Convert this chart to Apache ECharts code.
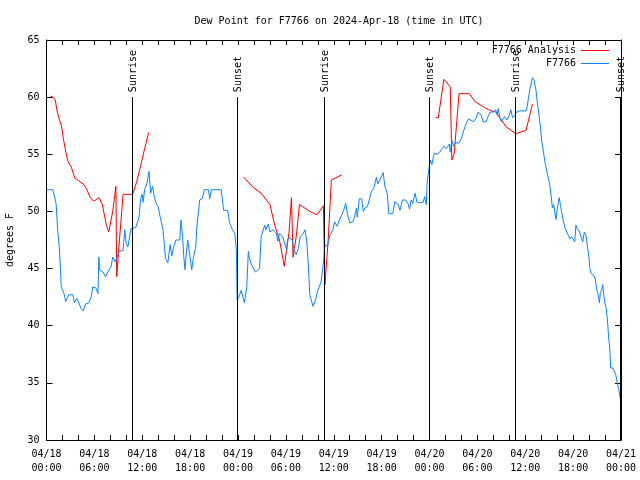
<!DOCTYPE html>
<html>
<head>
<meta charset="utf-8">
<script src="https://cdn.jsdelivr.net/npm/echarts@6/dist/echarts.min.js"></script>
<style>html,body{margin:0;padding:0;background:#fff}#c{width:640px;height:480px}</style>
</head>
<body>
<div id="c"></div>
<script>
// hours since 2024-04-18 00:00 UTC
const xTickLabels = ['04/18\n00:00','04/18\n06:00','04/18\n12:00','04/18\n18:00','04/19\n00:00','04/19\n06:00','04/19\n12:00','04/19\n18:00','04/20\n00:00','04/20\n06:00','04/20\n12:00','04/20\n18:00','04/21\n00:00'];

const obsHours = [0.0,0.8,1.2,1.4,1.6,1.75,1.85,2.25,2.4,2.8,3.3,3.5,3.8,4.05,4.35,4.6,4.9,5.3,5.6,5.8,6.2,6.45,6.56,6.65,7.07,7.4,7.7,8.1,8.3,8.6,8.8,9.1,9.2,9.6,9.8,10.0,10.2,10.5,10.6,10.8,11.2,11.6,11.8,12.0,12.1,12.3,12.6,12.85,13.05,13.3,13.5,13.75,14.0,14.25,14.6,14.8,14.9,15.2,15.4,15.5,15.7,15.9,16.2,16.7,16.85,17.05,17.2,17.35,17.5,17.7,17.95,18.2,18.4,18.6,18.7,18.85,19.2,19.5,19.8,20.3,20.45,20.65,21.9,22.2,22.7,22.95,23.3,23.6,23.8,23.85,23.9,24.1,24.4,24.8,25.1,25.3,25.4,25.7,25.9,26.2,26.7,26.9,27.35,27.5,27.8,28.0,28.4,28.8,29.0,29.2,29.6,30.1,30.2,30.4,30.8,31.1,31.3,31.6,31.8,32.2,32.4,32.6,32.8,33.0,33.4,33.7,34.0,34.4,34.6,34.75,34.9,35.2,35.3,35.5,35.9,36.1,36.4,36.7,37.0,37.2,37.5,37.7,38.0,38.4,38.6,38.85,38.95,39.2,39.5,39.7,39.9,40.2,40.45,40.7,41.0,41.35,41.5,41.8,42.2,42.4,42.7,42.9,43.4,43.65,44.1,44.3,44.6,45.0,45.3,45.5,45.7,45.9,46.2,46.4,46.8,47.2,47.4,47.6,47.7,47.9,48.1,48.3,48.5,48.6,49.0,49.3,49.6,49.8,50.1,50.5,50.6,50.8,51.0,51.2,51.4,51.7,52.0,52.3,52.6,52.9,53.1,53.5,53.8,54.1,54.3,54.5,54.7,55.1,55.4,55.6,56.0,56.3,56.5,56.6,56.8,57.0,57.2,57.4,57.7,58.0,58.2,58.4,58.7,58.9,59.3,60.1,60.25,60.4,60.6,60.8,60.9,61.1,61.2,61.35,61.5,61.75,61.9,62.05,62.3,62.5,62.7,62.9,63.1,63.3,63.4,63.55,63.7,63.85,64.0,64.15,64.25,64.4,64.6,64.75,65.0,65.2,65.4,65.6,65.8,66.0,66.2,66.35,66.5,66.8,66.95,67.2,67.4,67.6,67.7,67.8,68.0,68.1,68.25,68.45,68.65,68.8,68.9,69.1,69.3,69.4,69.6,69.7,69.85,70.0,70.15,70.3,70.45,70.6,70.7,71.0,71.35,71.5,71.7,71.9];
const obsDew = [51.9,51.9,50.7,48.4,46.9,44.9,43.4,42.7,42.1,42.7,42.7,42.0,42.4,42.5,41.5,41.3,41.9,42.0,42.5,43.4,43.3,42.8,46.0,44.9,44.7,44.3,44.7,45.2,46.0,45.6,45.9,46.5,46.6,46.6,48.4,47.2,46.9,48.1,48.5,48.6,48.6,49.5,51.1,51.5,50.8,51.9,52.5,53.5,51.6,52.2,51.3,50.7,50.4,49.5,48.4,46.9,45.9,45.5,45.6,47.1,46.1,46.8,47.5,47.5,49.25,47.8,46.1,44.9,46.1,47.5,46.2,44.9,45.9,45.9,46.9,48.7,51.0,51.1,51.9,51.9,51.1,51.9,51.9,50.1,50.1,49.0,48.4,48.1,46.6,44.0,42.25,42.5,43.1,42.0,43.4,46.5,46.0,45.3,45.4,44.7,45.0,47.8,48.8,48.4,48.9,48.2,48.4,48.1,47.4,48.1,47.8,46.6,47.5,47.7,47.5,46.5,46.2,46.9,47.8,48.1,48.4,47.5,45.5,42.7,41.7,42.2,43.1,43.8,44.9,45.8,47.1,46.9,47.2,47.9,48.4,49.1,48.7,49.25,49.7,50.0,50.7,49.85,49.0,49.1,49.5,50.3,49.5,51.1,51.1,50.0,50.3,50.4,51.0,51.7,52.0,53.0,52.4,52.8,53.4,52.2,51.6,49.8,49.8,50.85,50.6,50.1,51.0,51.0,50.7,50.2,51.0,50.7,51.6,50.85,50.75,50.8,51.3,50.6,52.5,53.6,54.5,54.1,54.8,55.1,55.0,55.2,55.5,55.7,55.5,55.9,55.2,56.25,55.7,56.0,56.1,56.0,56.4,57.1,57.7,58.1,58.0,57.85,58.1,58.7,58.8,58.4,57.85,57.85,58.4,58.7,58.7,58.9,58.4,59.0,58.3,57.85,58.0,58.3,58.0,58.4,58.9,58.2,58.4,58.7,58.8,58.8,59.2,59.9,60.8,61.35,61.7,61.5,61.1,60.6,59.6,58.3,57.4,56.25,55.1,54.2,53.5,52.9,52.2,51.0,50.3,50.6,50.7,49.3,50.15,50.8,51.2,50.6,49.8,49.25,48.5,48.2,47.9,47.6,47.8,47.7,47.35,48.8,48.5,48.2,48.1,47.35,48.2,47.9,47.5,46.9,45.9,45.0,44.6,44.7,44.35,44.0,43.4,42.8,42.0,42.8,43.2,43.6,42.65,41.9,41.5,40.5,39.0,37.9,36.3,36.3,35.7,35.1,34.5,33.65];

// analysis: three separate runs (null marks a gap)
const anaHours = [0.5,0.8,1.1,1.35,1.7,1.9,2.1,2.45,2.7,3.1,3.55,4.0,4.6,5.0,5.5,5.9,6.6,7.0,7.5,7.8,8.3,8.7,8.8,9.2,9.6,10.8,11.3,11.8,12.3,12.8, 18.0, 24.7,25.9,26.9,28.0,28.6,29.2,29.8,30.4,30.7,30.9,31.3,31.7,33.0,33.9,34.7,34.9,35.3,35.7,37.0, 42.0, 48.75,49.1,49.8,50.6,50.8,51.1,51.7,53.0,53.7,55.4,56.3,57.6,58.8,60.1,60.9];
const anaDew = [60.1,60.0,59.75,58.7,57.85,57.4,56.4,55.1,54.35,53.9,52.9,52.7,52.4,52.0,51.2,50.9,51.2,50.6,48.8,48.2,50.0,52.2,44.3,48.0,51.5,51.5,52.6,54.0,55.5,56.9, null, 53.0,52.1,51.6,50.6,48.8,47.5,45.2,48.2,51.2,46.0,47.8,50.6,50.0,49.7,50.5,43.6,47.5,52.75,53.2, null, 58.2,58.2,61.56,60.9,54.5,55.1,60.3,60.3,59.6,58.9,58.7,57.4,56.8,57.1,59.4];

const eventHours = [10.75, 23.9, 34.8, 47.93, 58.75, 71.93];
const eventNames = ['Sunrise','Sunset','Sunrise','Sunset','Sunrise','Sunset'];
const eventTop = 60;

const FONT = 'DejaVu Sans Mono';
const chart = echarts.init(document.getElementById('c'), null, {renderer:'canvas'});

const tickStyle = {color:'#000', width:1};

chart.setOption({
  animation:false,
  backgroundColor:'#fff',
  title:{text:'Dew Point for F7766 on 2024-Apr-18 (time in UTC)', left:334, textAlign:'center', top:11,
    textStyle:{fontFamily:FONT, fontSize:10, fontWeight:'normal', color:'#000'}},
  legend:{
    data:['F7766 Analysis','F7766'], orient:'vertical', align:'right', right:31, top:44, padding:0, itemGap:0,
    icon:'rect', itemWidth:28, itemHeight:1,
    textStyle:{fontFamily:FONT, fontSize:10, color:'#000', lineHeight:13}
  },
  grid:{left:46.5, right:19, top:40, bottom:40, containLabel:false, outerBoundsMode:'none'},
  xAxis:[
    {type:'value', min:0, max:72, interval:6, position:'bottom',
      axisLine:{show:true, onZero:false, lineStyle:tickStyle}, splitLine:{show:false},
      axisTick:{show:true, inside:true, length:5, lineStyle:tickStyle},
      minorTick:{show:true, splitNumber:3, length:5, lineStyle:tickStyle},
      minorSplitLine:{show:false},
      axisLabel:{color:'#000', fontFamily:FONT, fontSize:10, margin:7, lineHeight:14,
        formatter:(v)=>xTickLabels[Math.round(v/6)]}},
    {type:'value', min:0, max:72, interval:6, position:'top',
      axisLine:{show:true, onZero:false, lineStyle:tickStyle}, splitLine:{show:false},
      axisTick:{show:true, inside:true, length:5, lineStyle:tickStyle},
      minorTick:{show:true, splitNumber:3, length:5, lineStyle:tickStyle},
      axisLabel:{show:false}}
  ],
  yAxis:[
    {type:'value', min:30, max:65, interval:5, position:'left',
      axisLine:{show:true, onZero:false, lineStyle:tickStyle}, splitLine:{show:false},
      name:'degrees F', nameLocation:'middle', nameGap:31, nameRotate:90,
      nameTextStyle:{fontFamily:FONT, fontSize:10, color:'#000'},
      axisTick:{show:true, inside:true, length:6, lineStyle:tickStyle},
      axisLabel:{color:'#000', fontFamily:FONT, fontSize:10, margin:7}},
    {type:'value', min:30, max:65, interval:5, position:'right',
      axisLine:{show:true, onZero:false, lineStyle:tickStyle}, splitLine:{show:false},
      axisTick:{show:true, inside:true, length:6, lineStyle:tickStyle},
      axisLabel:{show:false}}
  ],
  series:[
    {name:'F7766 Analysis', type:'line', xAxisIndex:0, yAxisIndex:0, showSymbol:false, symbol:'none',
      connectNulls:false, color:'#ff0000', lineStyle:{color:'#ff0000', width:1},
      data:anaHours.map((h,i)=>[h, anaDew[i]])},
    {name:'F7766', type:'line', xAxisIndex:0, yAxisIndex:0, showSymbol:false, symbol:'none',
      color:'#0a84ff', lineStyle:{color:'#0a84ff', width:1},
      data:obsHours.map((h,i)=>[h, obsDew[i]])},
    {type:'custom', xAxisIndex:0, yAxisIndex:0, clip:false, silent:true, z:10,
      data:eventHours.map((h,i)=>[h, i]),
      renderItem:(params, api)=>{
        const t = api.value(0);
        const name = eventNames[api.value(1)];
        const p1 = api.coord([t, eventTop]);
        const p2 = api.coord([t, 30]);
        const x = Math.round(p1[0]) + 0.5;
        return {type:'group', children:[
          {type:'line', shape:{x1:x, y1:p1[1], x2:x, y2:p2[1]}, style:{stroke:'#000', lineWidth:1}},
          {type:'text', x:x+1, y:p1[1]-5, rotation:Math.PI/2,
            style:{text:name, fill:'#000', font:'10px "DejaVu Sans Mono"', align:'left', verticalAlign:'middle'}}
        ]};
      }}
  ]
});
</script>
</body>
</html>
